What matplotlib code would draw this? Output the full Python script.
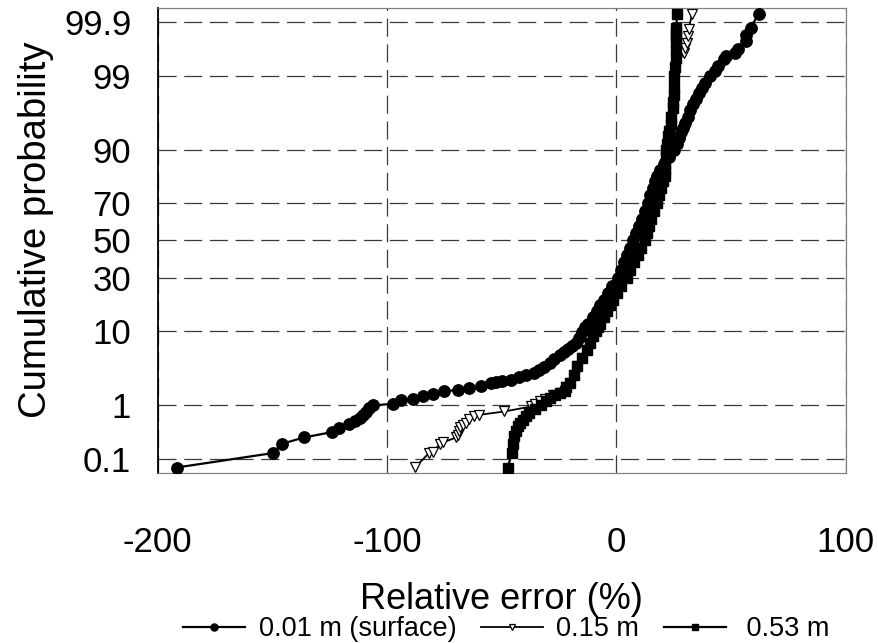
import math
from statistics import NormalDist
import numpy as np
import matplotlib
matplotlib.use("Agg")
import matplotlib.pyplot as plt
from matplotlib.ticker import FixedLocator, NullLocator

plt.rcParams['font.family'] = ['Liberation Sans', 'DejaVu Sans']
plt.rcParams['lines.scale_dashes'] = False

# ---------------- data ----------------
# 0.01 m (surface): relative error (%) and cumulative probability (%)
c_err = [-191.6, -149.8, -145.7, -136.2, -123.9, -120.7, -116.6, -114.1, -111.9, -110.2,
         -108.9, -107.6, -106.1, -97.4, -93.8, -88.7, -84.3, -80.0, -74.9, -69.1,
         -64.0, -58.9, -54.5, -52.3, -49.6, -45.8, -42.2, -39.2, -36.0, -33.6,
         -31.4, -29.0, -26.9, -24.7, -22.8, -21.0, -19.3, -17.6, -16.2, -14.9,
         -13.5, -12.4, -10.2, -8.5, -6.9, -5.4, -3.5, -1.7, 0.7, 2.0,
         3.3, 4.6, 5.9, 7.2, 8.5, 9.8, 11.2, 12.5, 13.8, 14.9,
         15.9, 16.8, 17.7, 19.0, 20.7, 22.9, 25.4, 26.5, 27.4, 28.3,
         29.1, 30.0, 31.1, 32.4, 33.5, 34.6, 36.3, 37.6, 38.9, 41.1,
         42.9, 44.6, 47.2, 48.0, 52.0, 53.0, 56.4, 56.7, 58.6, 62.2]
c_prob = [0.0657, 0.131, 0.2005, 0.265, 0.335, 0.406, 0.469, 0.536, 0.605, 0.681,
          0.767, 0.877, 0.977, 1.042, 1.178, 1.254, 1.366, 1.489, 1.634, 1.73,
          1.84, 1.99, 2.18, 2.23, 2.32, 2.44, 2.63, 2.87, 3.08, 3.37,
          3.70, 4.15, 4.64, 5.29, 5.77, 6.28, 6.73, 7.4, 8.33, 9.68,
          11, 12, 14, 16, 18, 20, 23, 26, 30, 34,
          38, 42, 46, 50, 54, 58, 62, 66, 70, 74,
          77, 80, 82, 84, 86, 88, 90, 91.5, 92.6, 93.7,
          94.5, 95.2, 96.0, 96.8, 97.3, 97.7, 98.17, 98.45, 98.73, 99.0,
          99.17, 99.32, 99.48, 99.545, 99.606, 99.657, 99.761, 99.815, 99.870, 99.934]

# 0.15 m
t_err = [-87.7, -81.6, -80.0, -76.8, -75.6, -69.8, -69.1, -68.6, -68.0, -67.0,
         -65.4, -64.0, -61.8, -59.6, -48.7, -37.1, -35.6, -33.4, -31.0, -27.5,
         -24.7, -22.5, -21.7, -20.3, -18.6, -16.9, -14.7, -12.7, -11.2, -9.9,
         -8.7, -7.8, -7.0, -5.4, -4.1, -2.8, -1.5, 0.2, 2.0, 4.6,
         6.1, 7.9, 9.4, 10.9, 12.4, 13.3, 14.4, 15.3, 16.4, 17.7,
         18.8, 19.6, 20.5, 21.2, 21.3, 21.4, 21.6, 21.8, 22.1, 22.6,
         23.0, 23.7, 24.1, 24.6, 25.0, 25.5, 26.3, 26.9, 29.5, 30.2,
         31.0, 31.2, 31.7, 33.1]
t_prob = [0.0663, 0.131, 0.141, 0.198, 0.2125, 0.265, 0.298, 0.358, 0.413, 0.455,
          0.488, 0.574, 0.637, 0.681, 0.776, 0.941, 1.042, 1.136, 1.25, 1.43,
          1.54, 1.67, 1.91, 2.18, 2.87, 3.73, 4.86, 6.11, 7.4, 8.73,
          10, 11, 12, 14, 16, 18, 20, 23, 26, 30,
          34, 38, 42, 46, 50, 54, 58, 62, 66, 70,
          74, 77, 80, 82, 84, 86, 88, 90, 91.5, 93,
          94, 95, 96, 97, 98, 99, 99.3, 99.5, 99.605, 99.68,
          99.743, 99.809, 99.864, 99.934]

# 0.53 m
s_err = [-47.3, -45.4, -44.8, -44.4, -43.7, -42.9, -42.0, -40.7, -39.3, -37.8,
         -35.6, -32.6, -30.8, -28.7, -26.7, -24.7, -22.5, -21.7, -20.3, -18.6,
         -16.9, -14.7, -12.7, -11.2, -9.9, -8.7, -7.8, -7.0, -5.4, -4.1,
         -2.8, -1.5, 0.2, 2.0, 4.6, 6.1, 7.9, 9.4, 10.9, 12.4,
         13.3, 14.4, 15.3, 16.4, 17.7, 18.8, 19.6, 20.5, 21.2, 21.3,
         21.4, 21.6, 21.8, 22.1, 22.6, 23.0, 23.7, 24.1, 24.6, 24.8,
         25.0, 25.1, 25.4, 25.6, 25.9, 26.0, 26.1, 26.1, 26.2, 26.2,
         26.6]
s_prob = [0.0657, 0.1346, 0.20, 0.277, 0.354, 0.424, 0.494, 0.558, 0.642, 0.728,
          0.861, 1.0, 1.145, 1.29, 1.43, 1.54, 1.67, 1.91, 2.18, 2.87,
          3.73, 4.86, 6.11, 7.4, 8.73, 10, 11, 12, 14, 16,
          18, 20, 23, 26, 30, 34, 38, 42, 46, 50,
          54, 58, 62, 66, 70, 74, 77, 80, 82, 84,
          86, 88, 90, 91.5, 93, 94, 95, 96, 97, 97.5,
          98, 98.5, 99, 99.3, 99.5, 99.65, 99.75, 99.8, 99.84, 99.87,
          99.934]

series_labels = ['0.01 m (surface)', '0.15 m', ' 0.53 m']
x_ticks = [-200, -100, 0, 100]
y_ticks = [0.1, 1, 10, 30, 50, 70, 90, 99, 99.9]
y_ticklabels = ['0.1', '1', '10', '30', '50', '70', '90', '99', '99.9']

# ---------------- normal probability scale ----------------
_nd = NormalDist()
_inv_cdf = np.vectorize(_nd.inv_cdf, otypes=[float])
_erf = np.vectorize(math.erf, otypes=[float])


def prob_forward(p):
    q = np.clip(np.asarray(p, dtype=float) / 100.0, 1e-12, 1 - 1e-12)
    return _inv_cdf(q)


def prob_inverse(z):
    z = np.asarray(z, dtype=float)
    return 100.0 * 0.5 * (1.0 + _erf(z / math.sqrt(2.0)))


fig = plt.figure(figsize=(8.79, 6.43), dpi=100)
ax = fig.add_axes([0.1792, 0.2644, 0.7827, 0.7232])
ax.set_yscale('function', functions=(prob_forward, prob_inverse))

ax.plot(t_err, t_prob, color='black', lw=1.3, marker='v', ms=7.2,
        mfc='white', mec='black', mew=0.9, label=series_labels[1], zorder=2)
ax.plot(s_err, s_prob, color='black', lw=1.6, marker='s', ms=7.8,
        mfc='black', mec='black', label=series_labels[2], zorder=3)
ax.plot(c_err, c_prob, color='black', lw=1.6, marker='o', ms=8.2,
        mfc='black', mec='black', label=series_labels[0], zorder=4)

ax.set_xlim(-200, 100)
ax.set_ylim(0.05, 99.95)
ax.xaxis.set_major_locator(FixedLocator(x_ticks))
ax.set_xticklabels([str(v) for v in x_ticks])
ax.yaxis.set_major_locator(FixedLocator(y_ticks))
ax.yaxis.set_minor_locator(NullLocator())
ax.set_yticklabels(y_ticklabels)

ax.grid(True, which='major', color='#3a3a3a', lw=0.9, linestyle=(0, (13, 5.5)))
ax.set_axisbelow(True)

ax.tick_params(axis='both', length=0, labelsize=25)
ax.tick_params(axis='y', pad=19)
ax.tick_params(axis='x', pad=38)

for side in ['top', 'right', 'bottom']:
    ax.spines[side].set_color('#808080')
    ax.spines[side].set_linewidth(0.9)
ax.spines['left'].set_color('black')
ax.spines['left'].set_linewidth(1.3)

ax.set_xlabel('Relative error (%)', fontsize=26)
ax.xaxis.label.set_va('center')
ax.xaxis.set_label_coords(0.5, -(600 - 473) / 465.0)
ax.set_ylabel('Cumulative probability', fontsize=27.5)
ax.yaxis.label.set_va('center')
ax.yaxis.set_label_coords((36 - 157.5) / 688.0, (473 - 230) / 465.0)

h, l = ax.get_legend_handles_labels()
order = [2, 0, 1]
fig.legend([h[i] for i in order], [l[i] for i in order], loc='center',
           bbox_to_anchor=(0.576, 1 - 629 / 643.0),
           ncol=3, frameon=False, fontsize=19.5, markerscale=0.62,
           handlelength=2.3, handletextpad=0.5, columnspacing=0.9,
           borderpad=0.0)

fig.savefig('out.png', dpi=100)
